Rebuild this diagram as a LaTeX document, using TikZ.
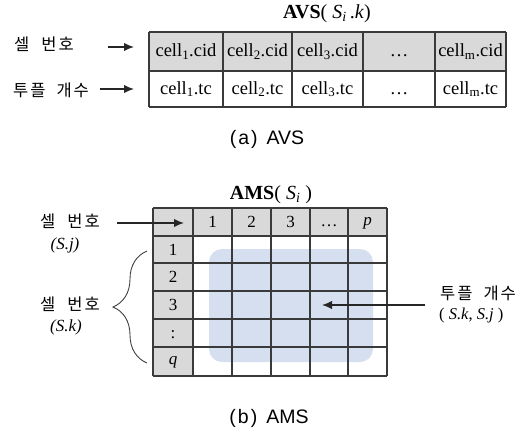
\documentclass[tikz,border=0pt]{standalone}
\usepackage{fontspec}
\setmainfont{Liberation Serif}
\newfontfamily\krfont{Noto Sans CJK KR}
\newfontfamily\capfont{Liberation Sans}
\usetikzlibrary{arrows.meta,decorations.pathreplacing}
\definecolor{hdr}{HTML}{D9D9D9}
\definecolor{bluebg}{HTML}{D5DFEF}
\definecolor{gridc}{HTML}{3A3A3A}
\begin{document}
\begin{tikzpicture}[x=1pt,y=-1pt,
  cellt/.style={font=\fontsize{18.5}{18}\selectfont, inner sep=0pt},
  numt/.style={font=\fontsize{17}{17}\selectfont, inner sep=0pt},
  kr/.style={font=\krfont\fontsize{16.5}{18}\selectfont, inner sep=0pt},
  sj/.style={font=\fontsize{17}{17}\selectfont\itshape, inner sep=0pt},
  ttl/.style={font=\fontsize{20}{20}\selectfont, inner sep=0pt},
  capt/.style={font=\capfont\fontsize{19.5}{19.5}\selectfont, inner sep=0pt},
  gridl/.style={draw=gridc, line width=1.3pt},
  arr/.style={draw=black!85, line width=1.5pt, -{Latex[length=10pt,width=8.5pt]}},
  bracel/.style={draw=black!75, line width=0.9pt, decorate, decoration={brace, amplitude=34pt}}
]
\useasboundingbox (0,0) rectangle (519,434);

% ---------- (a) AVS ----------
\node[ttl] (tA) at (327,14) {\textbf{AVS}( \textit{S}\textsubscript{\textit{i}}\,.\textit{k})};
\fill[hdr] (149,32) rectangle (506,71);
\foreach \y in {32,71,107} \draw[gridl] (149,\y) -- (506,\y);
\foreach \x in {149,223,292,363,435,506} \draw[gridl] (\x,32) -- (\x,107);

\node[cellt] (c11) at (186,51.5) {cell\textsubscript{1}.cid};
\node[cellt] (c12) at (257.5,51.5) {cell\textsubscript{2}.cid};
\node[cellt] (c13) at (327.5,51.5) {cell\textsubscript{3}.cid};
\node[cellt] (c14) at (399,56) {\dots};
\node[cellt] (c15) at (470.5,51.5) {cell\textsubscript{m}.cid};
\node[cellt] (c21) at (186,89) {cell\textsubscript{1}.tc};
\node[cellt] (c22) at (257.5,89) {cell\textsubscript{2}.tc};
\node[cellt] (c23) at (327.5,89) {cell\textsubscript{3}.tc};
\node[cellt] (c24) at (399,94) {\dots};
\node[cellt] (c25) at (470.5,89) {cell\textsubscript{m}.tc};

\node[kr, anchor=west] (la1) at (14,44) {셀\hspace{12pt}번\hspace{2pt}호};
\node[kr, anchor=west] (la2) at (13,90) {투\hspace{2pt}플\hspace{11pt}개\hspace{2pt}수};
\coordinate (a1s) at (108,47);
\coordinate (a1e) at (134,47);
\coordinate (a2s) at (100,89);
\coordinate (a2e) at (134,89);
\draw[arr] (a1s) -- (a1e);
\draw[arr] (a2s) -- (a2e);

\node[capt] (capA) at (267,139) {(\hspace{2pt}a\hspace{2pt})\hspace{9pt}AVS};

% ---------- (b) AMS ----------
\node[ttl] (tB) at (271,195) {\textbf{AMS}( \textit{S}\textsubscript{\textit{i}} )};
\fill[hdr] (153,208) rectangle (387,236);
\fill[hdr] (153,208) rectangle (193,376);
\fill[bluebg, rounded corners=13pt] (209,249) rectangle (373,362);
\foreach \y in {208,236,263,291,319,347,376} \draw[gridl] (153,\y) -- (387,\y);
\foreach \x in {153,193,232,271,310,348,387} \draw[gridl] (\x,208) -- (\x,376);

\node[numt] (h1) at (212.5,222) {1};
\node[numt] (h2) at (251.5,222) {2};
\node[numt] (h3) at (290.5,222) {3};
\node[numt] (h4) at (329,226) {\dots};
\node[numt] (h5) at (367.5,223) {\textit{p}};
\node[numt] (r1) at (173,249.5) {1};
\node[numt] (r2) at (173,277) {2};
\node[numt] (r3) at (173,305) {3};
\node[numt] (r4) at (173,335) {:};
\node[numt] (r5) at (173,362.5) {\textit{q}};

\node[kr] (lb1) at (70,221) {셀\hspace{12pt}번\hspace{2pt}호};
\node[sj] (lb1s) at (65,245) {(S.j)};
\node[kr] (lb2) at (70,304) {셀\hspace{12pt}번\hspace{2pt}호};
\node[sj] (lb2s) at (66,327) {(S.k)};
\coordinate (b1s) at (117,223);
\coordinate (b1e) at (184,223);
\draw[arr] (b1s) -- (b1e);
\coordinate (brB) at (147,363);
\coordinate (brT) at (147,251);
\draw[bracel] (brB) -- (brT);

\node[kr, anchor=west] (lr1) at (440,293) {투\hspace{2pt}플\hspace{11pt}개\hspace{2pt}수};
\node[sj, anchor=west, font=\fontsize{16.5}{16}\selectfont] (lr2) at (439,316) {( \textit{S.k}, \textit{S.j} )};
\coordinate (c1s) at (425,305);
\coordinate (c1e) at (322,305);
\draw[arr] (c1s) -- (c1e);

\node[capt] (capB) at (269,418) {(\hspace{2pt}b\hspace{2pt})\hspace{9pt}AMS};
\end{tikzpicture}
\end{document}
